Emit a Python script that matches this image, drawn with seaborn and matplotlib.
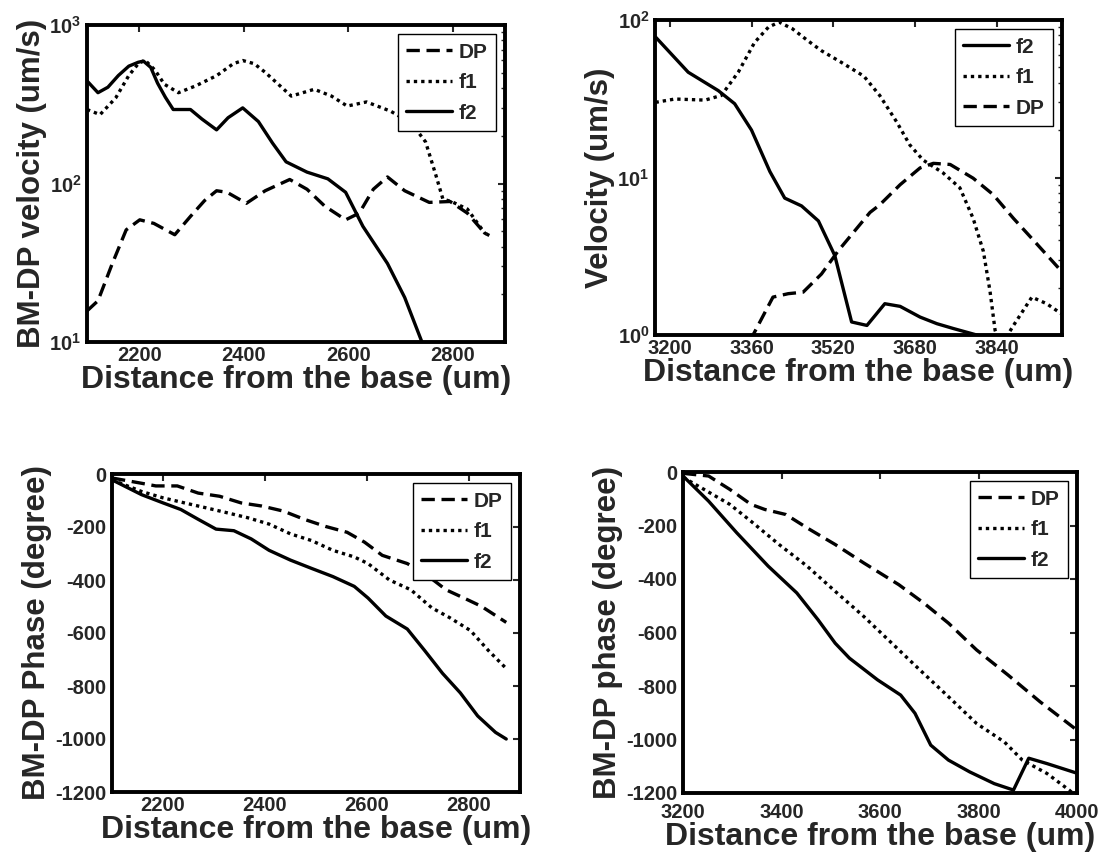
import numpy as np
import matplotlib
matplotlib.use("Agg")
import matplotlib.pyplot as plt
import seaborn as sns
from matplotlib.ticker import FuncFormatter, LogLocator, NullFormatter

# ---------------- data ----------------
# Panel A: BM-DP velocity (log), base region
a_dp_x = [2100, 2121, 2148, 2175, 2201, 2228, 2268, 2298, 2325, 2348, 2368, 2405, 2441, 2488, 2521, 2555, 2595, 2621, 2648, 2675, 2708, 2755, 2795, 2828, 2861, 2870]
a_dp_y = [15.7, 18.2, 31, 51, 59, 56, 47.5, 62, 78, 90, 88, 75, 90, 106, 92, 72, 59, 65, 92, 110, 90, 76, 77, 65, 48.7, 47]
a_f1_x = [2100, 2125, 2155, 2180, 2198, 2211, 2230, 2248, 2275, 2308, 2348, 2380, 2398, 2420, 2441, 2491, 2535, 2568, 2598, 2635, 2681, 2721, 2748, 2768, 2781, 2801, 2828, 2861, 2870]
a_f1_y = [293, 272, 347, 480, 569, 600, 520, 423, 374, 413, 479, 570, 597, 570, 503, 356, 393, 356, 308, 327, 286, 240, 183, 112, 80, 76, 69, 48.7, 47]
a_f2_x = [2100, 2121, 2140, 2160, 2180, 2198, 2208, 2222, 2235, 2250, 2265, 2298, 2320, 2348, 2370, 2398, 2428, 2455, 2481, 2521, 2561, 2595, 2628, 2675, 2708, 2741, 2760]
a_f2_y = [444, 374, 405, 480, 550, 582, 592, 540, 430, 350, 293, 293, 255, 218, 260, 300, 246, 180, 137, 118, 107, 88, 53.7, 31.3, 19.1, 10, 8]

# Panel B: velocity (log), apical region
b_f2_x = [3172, 3236, 3295, 3327, 3360, 3396, 3425, 3458, 3491, 3523, 3556, 3586, 3621, 3651, 3690, 3723, 3755, 3801, 3840]
b_f2_y = [78, 46.6, 35.6, 29.4, 20, 10.9, 7.4, 6.6, 5.3, 3.2, 1.21, 1.15, 1.58, 1.52, 1.30, 1.18, 1.10, 1.0, 0.92]
b_f1_x = [3172, 3210, 3269, 3301, 3334, 3366, 3393, 3414, 3440, 3470, 3497, 3536, 3580, 3611, 3644, 3670, 3696, 3735, 3768, 3794, 3814, 3827, 3837, 3848, 3873, 3909, 3938, 3966]
b_f1_y = [30, 31.5, 31, 33.2, 46.6, 72, 90, 97, 88, 74, 63.8, 53.8, 44, 33.2, 22.6, 16.1, 12.9, 10.7, 8.6, 5.5, 3.4, 1.9, 1.07, 0.85, 1.15, 1.74, 1.58, 1.37]
b_dp_x = [3340, 3363, 3402, 3432, 3461, 3497, 3530, 3562, 3592, 3611, 3651, 3690, 3716, 3749, 3794, 3833, 3873, 3912, 3966]
b_dp_y = [0.7, 1.0, 1.74, 1.83, 1.87, 2.44, 3.43, 4.58, 6.0, 6.7, 9.0, 11.5, 12.3, 12.1, 9.9, 7.8, 5.5, 4.0, 2.56]

# Panel C: BM-DP phase, base region
c_dp_x = [2100, 2158, 2186, 2228, 2269, 2311, 2353, 2394, 2436, 2477, 2519, 2561, 2595, 2630, 2679, 2713, 2755, 2790, 2824, 2873]
c_dp_y = [-15, -35, -45, -45, -72, -84, -109, -121, -140, -171, -198, -220, -257, -307, -338, -375, -437, -468, -499, -560]
c_f1_x = [2100, 2158, 2200, 2242, 2283, 2325, 2366, 2408, 2450, 2491, 2533, 2575, 2602, 2644, 2686, 2727, 2762, 2803, 2838, 2873]
c_f1_y = [-22, -66, -90, -109, -127, -146, -165, -189, -226, -251, -288, -313, -338, -400, -437, -505, -542, -591, -666, -734]
c_f2_x = [2100, 2158, 2200, 2235, 2269, 2304, 2339, 2373, 2408, 2450, 2491, 2533, 2575, 2602, 2637, 2679, 2713, 2748, 2783, 2817, 2852, 2873]
c_f2_y = [-22, -78, -109, -134, -171, -208, -214, -245, -288, -325, -356, -387, -424, -468, -536, -585, -666, -752, -826, -913, -975, -1000]

# Panel D: BM-DP phase, apical region
d_dp_x = [3200, 3252, 3295, 3338, 3366, 3409, 3452, 3509, 3567, 3638, 3689, 3739, 3796, 3860, 3925, 4000]
d_dp_y = [-5, -15, -65, -121, -140, -159, -209, -271, -340, -421, -490, -565, -665, -759, -859, -965]
d_f1_x = [3200, 3237, 3295, 3338, 3395, 3452, 3509, 3567, 3624, 3681, 3739, 3796, 3853, 3889, 3939, 3984, 4000]
d_f1_y = [-20, -59, -121, -184, -271, -352, -446, -540, -640, -740, -840, -940, -1010, -1077, -1127, -1189, -1215]
d_f2_x = [3200, 3252, 3309, 3373, 3431, 3474, 3509, 3538, 3595, 3642, 3671, 3703, 3739, 3782, 3832, 3871, 3902, 3939, 4000]
d_f2_y = [-15, -109, -227, -352, -452, -552, -640, -696, -777, -834, -902, -1021, -1077, -1121, -1165, -1189, -1070, -1090, -1126]

xlabel = "Distance from the base (um)"
ylabels = ["BM-DP velocity (um/s)", "Velocity (um/s)", "BM-DP Phase (degree)", "BM-DP phase (degree)"]

# ---------------- style ----------------
sns.set_style("white")
plt.rcParams["font.family"] = ["Liberation Sans", "DejaVu Sans"]
plt.rcParams["font.weight"] = "bold"
plt.rcParams["axes.unicode_minus"] = False
plt.rcParams["mathtext.fontset"] = "custom"
plt.rcParams["mathtext.rm"] = "Liberation Sans:bold"
plt.rcParams["mathtext.bf"] = "Liberation Sans:bold"
plt.rcParams["mathtext.it"] = "Liberation Sans:bold"

fig = plt.figure(figsize=(11.08, 8.58), dpi=100)
W, H = 1108, 858

def axes_px(l, r, t, b):
    return fig.add_axes([l / W, 1 - b / H, (r - l) / W, (b - t) / H])

axA = axes_px(87, 505, 25, 342)
axB = axes_px(655, 1062, 20, 335)
axC = axes_px(112, 520, 474, 792)
axD = axes_px(683, 1077, 472, 793)

LW = 2.4
STY = {"DP": (0, (4.0, 2.0)), "f1": (0, (1.0, 1.2)), "f2": "-"}

def draw(ax, x, y, name):
    sns.lineplot(x=x, y=y, ax=ax, color="black", linestyle=STY[name], linewidth=LW,
                 label=name, sort=False, estimator=None)

def finish(ax, order, ylabel, xpad=3):
    handles, labels = ax.get_legend_handles_labels()
    hm = dict(zip(labels, handles))
    leg = ax.legend([hm[o] for o in order], order, loc="upper right", frameon=True,
                    fancybox=False, framealpha=1, edgecolor="black",
                    prop={"weight": "bold", "size": 15}, handlelength=2.2,
                    handletextpad=0.3, borderpad=0.4, labelspacing=0.55,
                    borderaxespad=0.45)
    leg.get_frame().set_linewidth(1.0)
    for s in ax.spines.values():
        s.set_linewidth(2.8)
        s.set_color("black")
        s.set_visible(True)
    ax.tick_params(which="major", direction="in", top=True, right=True, length=5,
                   width=1.5, labelsize=14.5, pad=4)
    ax.tick_params(axis="x", which="major", pad=xpad)
    ax.tick_params(which="minor", direction="in", top=True, right=True, length=3, width=1.0)
    ax.set_xlabel(xlabel, fontsize=23, fontweight="bold", labelpad=0)
    ax.set_ylabel(ylabel, fontsize=22.5, fontweight="bold", labelpad=2)
    for t in ax.get_xticklabels() + ax.get_yticklabels():
        t.set_fontweight("bold")

logfmt = FuncFormatter(lambda v, p: r"$\mathbf{10^{%d}}$" % int(round(np.log10(v))))

# Panel A
draw(axA, a_dp_x, a_dp_y, "DP")
draw(axA, a_f1_x, a_f1_y, "f1")
draw(axA, a_f2_x, a_f2_y, "f2")
axA.set_yscale("log")
axA.set_xlim(2100, 2900)
axA.set_ylim(10, 1000)
axA.set_xticks([2200, 2400, 2600, 2800])
axA.set_yticks([10, 100, 1000])
axA.yaxis.set_major_formatter(logfmt)
axA.yaxis.set_minor_locator(LogLocator(base=10, subs=np.arange(2, 10)))
axA.yaxis.set_minor_formatter(NullFormatter())
finish(axA, ["DP", "f1", "f2"], ylabels[0])

# Panel B
draw(axB, b_f2_x, b_f2_y, "f2")
draw(axB, b_f1_x, b_f1_y, "f1")
draw(axB, b_dp_x, b_dp_y, "DP")
axB.set_yscale("log")
axB.set_xlim(3171, 3968)
axB.set_ylim(1, 100)
axB.set_xticks([3200, 3360, 3520, 3680, 3840])
axB.set_yticks([1, 10, 100])
axB.yaxis.set_major_formatter(logfmt)
axB.yaxis.set_minor_locator(LogLocator(base=10, subs=np.arange(2, 10)))
axB.yaxis.set_minor_formatter(NullFormatter())
finish(axB, ["f2", "f1", "DP"], ylabels[1])

# Panel C
draw(axC, c_dp_x, c_dp_y, "DP")
draw(axC, c_f1_x, c_f1_y, "f1")
draw(axC, c_f2_x, c_f2_y, "f2")
axC.set_xlim(2100, 2900)
axC.set_ylim(-1200, 0)
axC.set_xticks([2200, 2400, 2600, 2800])
axC.set_yticks(list(range(-1200, 1, 200)))
finish(axC, ["DP", "f1", "f2"], ylabels[2])

# Panel D
draw(axD, d_dp_x, d_dp_y, "DP")
draw(axD, d_f1_x, d_f1_y, "f1")
draw(axD, d_f2_x, d_f2_y, "f2")
axD.set_xlim(3200, 4000)
axD.set_ylim(-1200, 0)
axD.set_xticks([3200, 3400, 3600, 3800, 4000])
axD.set_yticks(list(range(-1200, 1, 200)))
finish(axD, ["DP", "f1", "f2"], ylabels[3], xpad=7)

fig.savefig("out.png", dpi=100, facecolor="white")
